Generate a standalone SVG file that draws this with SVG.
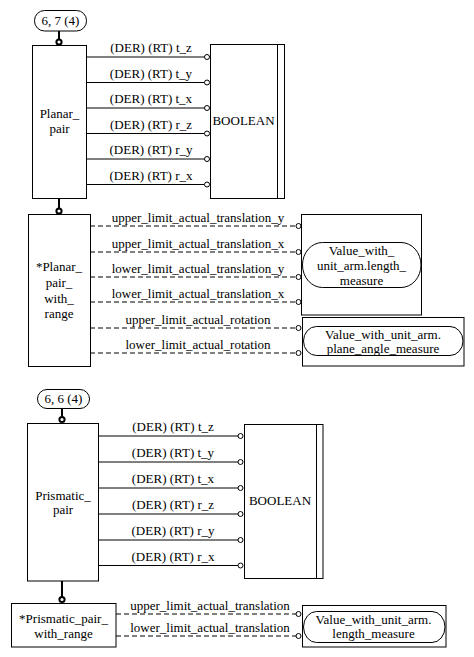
<svg xmlns="http://www.w3.org/2000/svg" width="474" height="657" viewBox="0 0 474 657">
<style>
text{font-family:"Liberation Serif","Times New Roman",serif;font-size:13px;fill:#000;text-anchor:middle}
.box{fill:#fff;stroke:#000;stroke-width:1}
.ln{fill:none;stroke:#000;stroke-width:1}
.dash{fill:none;stroke:#000;stroke-width:1;stroke-dasharray:5,3}
.end{fill:#fff;stroke:#000;stroke-width:1}
.thick{fill:none;stroke:#000;stroke-width:2}
.dot{fill:#fff;stroke:#000;stroke-width:2}
</style>
<rect width="474" height="657" fill="#fff"/>
<g id="connectors">
  <line class="thick" x1="59" y1="31" x2="59" y2="39.5"/>
  <circle class="dot" cx="59" cy="42" r="2.6"/>
  <line class="thick" x1="59" y1="198" x2="59" y2="208.5"/>
  <circle class="dot" cx="59" cy="211" r="2.6"/>
  <line class="thick" x1="62" y1="408" x2="62" y2="416.5"/>
  <circle class="dot" cx="62" cy="419.5" r="2.6"/>
  <line class="thick" x1="62" y1="581" x2="62" y2="596.5"/>
  <circle class="dot" cx="62" cy="599.5" r="2.6"/>
  <g id="planar-attrs">
    <line class="ln" x1="87" y1="57" x2="204.5" y2="57"/><circle class="end" cx="207" cy="57" r="2.5"/><text x="151" y="52">(DER) (RT) t_z</text>
    <line class="ln" x1="87" y1="82.5" x2="204.5" y2="82.5"/><circle class="end" cx="207" cy="82.5" r="2.5"/><text x="151" y="77.5">(DER) (RT) t_y</text>
    <line class="ln" x1="87" y1="108" x2="204.5" y2="108"/><circle class="end" cx="207" cy="108" r="2.5"/><text x="151" y="103">(DER) (RT) t_x</text>
    <line class="ln" x1="87" y1="133.5" x2="204.5" y2="133.5"/><circle class="end" cx="207" cy="133.5" r="2.5"/><text x="151" y="128.5">(DER) (RT) r_z</text>
    <line class="ln" x1="87" y1="159" x2="204.5" y2="159"/><circle class="end" cx="207" cy="159" r="2.5"/><text x="151" y="154">(DER) (RT) r_y</text>
    <line class="ln" x1="87" y1="184.5" x2="204.5" y2="184.5"/><circle class="end" cx="207" cy="184.5" r="2.5"/><text x="151" y="179.5">(DER) (RT) r_x</text>
  </g>
  <g id="planar-range-attrs">
    <line class="dash" x1="90" y1="226" x2="296" y2="226"/><circle class="end" cx="298.5" cy="226" r="2.5"/><text x="198" y="221.5">upper_limit_actual_translation_y</text>
    <line class="dash" x1="90" y1="252" x2="296" y2="252"/><circle class="end" cx="298.5" cy="252" r="2.5"/><text x="198" y="247.5">upper_limit_actual_translation_x</text>
    <line class="dash" x1="90" y1="277" x2="296" y2="277"/><circle class="end" cx="298.5" cy="277" r="2.5"/><text x="198" y="272.5">lower_limit_actual_translation_y</text>
    <line class="dash" x1="90" y1="302" x2="296" y2="302"/><circle class="end" cx="298.5" cy="302" r="2.5"/><text x="198" y="297.5">lower_limit_actual_translation_x</text>
    <line class="dash" x1="90" y1="328" x2="296" y2="328"/><circle class="end" cx="298.5" cy="328" r="2.5"/><text x="198" y="323.5">upper_limit_actual_rotation</text>
    <line class="dash" x1="90" y1="353" x2="296" y2="353"/><circle class="end" cx="298.5" cy="353" r="2.5"/><text x="198" y="348.5">lower_limit_actual_rotation</text>
  </g>
  <g id="prismatic-attrs">
    <line class="ln" x1="98" y1="436" x2="238" y2="436"/><circle class="end" cx="240.5" cy="436" r="2.5"/><text x="173" y="431">(DER) (RT) t_z</text>
    <line class="ln" x1="98" y1="462" x2="238" y2="462"/><circle class="end" cx="240.5" cy="462" r="2.5"/><text x="173" y="457">(DER) (RT) t_y</text>
    <line class="ln" x1="98" y1="488" x2="238" y2="488"/><circle class="end" cx="240.5" cy="488" r="2.5"/><text x="173" y="483">(DER) (RT) t_x</text>
    <line class="ln" x1="98" y1="514" x2="238" y2="514"/><circle class="end" cx="240.5" cy="514" r="2.5"/><text x="173" y="509">(DER) (RT) r_z</text>
    <line class="ln" x1="98" y1="540" x2="238" y2="540"/><circle class="end" cx="240.5" cy="540" r="2.5"/><text x="173" y="535">(DER) (RT) r_y</text>
    <line class="ln" x1="98" y1="565.5" x2="238" y2="565.5"/><circle class="end" cx="240.5" cy="565.5" r="2.5"/><text x="173" y="560.5">(DER) (RT) r_x</text>
  </g>
  <g id="prismatic-range-attrs">
    <line class="dash" x1="116" y1="614" x2="296" y2="614"/><circle class="end" cx="298.5" cy="614" r="2.5"/><text x="210" y="609.5">upper_limit_actual_translation</text>
    <line class="dash" x1="116" y1="636" x2="296" y2="636"/><circle class="end" cx="298.5" cy="636" r="2.5"/><text x="210" y="631.5">lower_limit_actual_translation</text>
  </g>
</g>
<g id="label-6-7">
  <rect class="box" x="34.5" y="10.5" width="52" height="20.5" rx="10" ry="10"/>
  <text x="60.5" y="24.5">6, 7 (4)</text>
</g>
<g id="planar-pair">
  <rect class="box" x="32.5" y="45.5" width="54" height="153"/>
  <text x="59.5" y="118">Planar_</text>
  <text x="59.5" y="132.5">pair</text>
</g>
<g id="boolean-1">
  <rect class="box" x="210.5" y="44.5" width="74" height="154"/>
  <line class="ln" x1="277.5" y1="44.5" x2="277.5" y2="198.5"/>
  <text x="243.5" y="125">BOOLEAN</text>
</g>
<g id="planar-pair-with-range">
  <rect class="box" x="28.5" y="214.5" width="62" height="152"/>
  <text x="59" y="271">*Planar_</text>
  <text x="59" y="287">pair_</text>
  <text x="59" y="302.5">with_</text>
  <text x="59" y="318">range</text>
</g>
<g id="length-measure-1">
  <rect class="box" x="301.5" y="214.5" width="120" height="100.5"/>
  <rect class="box" x="302.5" y="242.5" width="118.5" height="45" rx="20" ry="22.5"/>
  <text x="361.5" y="255">Value_with_</text>
  <text x="361.5" y="269.5">unit_arm.length_</text>
  <text x="361.5" y="284.5">measure</text>
</g>
<g id="plane-angle-measure">
  <rect class="box" x="302.5" y="317.5" width="161.5" height="48.5"/>
  <rect class="box" x="303.5" y="326.5" width="159.5" height="29" rx="13" ry="14.5"/>
  <text x="383" y="338.5">Value_with_unit_arm.</text>
  <text x="383" y="353">plane_angle_measure</text>
</g>
<g id="label-6-6">
  <rect class="box" x="37.5" y="389.5" width="52" height="19" rx="9.5" ry="9.5"/>
  <text x="63.5" y="403">6, 6 (4)</text>
</g>
<g id="prismatic-pair">
  <rect class="box" x="27.5" y="423.5" width="71" height="157.5"/>
  <text x="63" y="499.5">Prismatic_</text>
  <text x="63" y="514">pair</text>
</g>
<g id="boolean-2">
  <rect class="box" x="244.5" y="424.5" width="78.5" height="154"/>
  <line class="ln" x1="316.5" y1="424.5" x2="316.5" y2="578.5"/>
  <text x="280" y="505">BOOLEAN</text>
</g>
<g id="prismatic-pair-with-range">
  <rect class="box" x="11.5" y="603.5" width="104.5" height="43.5"/>
  <text x="63.5" y="622.5">*Prismatic_pair_</text>
  <text x="63.5" y="637.5">with_range</text>
</g>
<g id="length-measure-2">
  <rect class="box" x="302.5" y="605.5" width="143.5" height="41.5"/>
  <rect class="box" x="303.5" y="611.5" width="141.5" height="31" rx="13" ry="15.5"/>
  <text x="373.5" y="623.5">Value_with_unit_arm.</text>
  <text x="373.5" y="637.5">length_measure</text>
</g>
</svg>
